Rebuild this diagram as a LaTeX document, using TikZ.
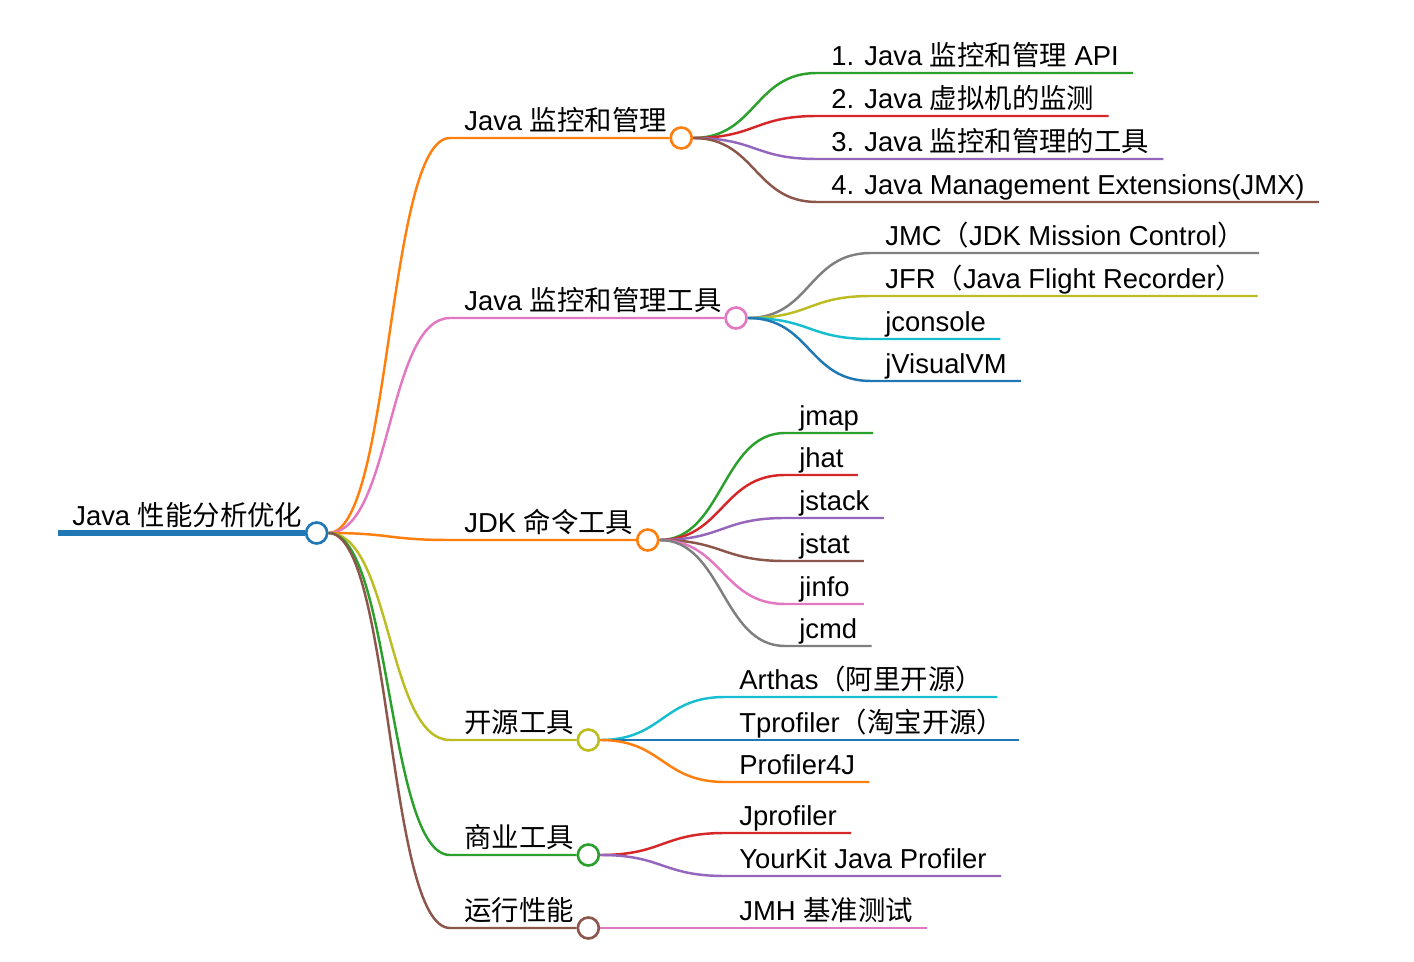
\documentclass[tikz,border=0pt]{standalone}
\usepackage{fontspec}
\setmainfont{Liberation Sans}
\newfontfamily\cjk{Noto Sans CJK SC}
\usetikzlibrary{backgrounds}

\definecolor{cblue}{HTML}{1F77B4}
\definecolor{corange}{HTML}{FF7F0E}
\definecolor{cgreen}{HTML}{2CA02C}
\definecolor{cred}{HTML}{D62728}
\definecolor{cpurple}{HTML}{9467BD}
\definecolor{cbrown}{HTML}{8C564B}
\definecolor{cpink}{HTML}{E377C2}
\definecolor{cgray}{HTML}{7F7F7F}
\definecolor{colive}{HTML}{BCBD22}
\definecolor{ccyan}{HTML}{17BECF}

\tikzset{
  topic/.style={anchor=south west, inner xsep=0.28cm, inner ysep=0.15cm, text depth=0pt, font=\fontsize{15.6}{18}\selectfont},
  hub/.style={circle, draw=#1, fill=white, line width=1.5pt, minimum size=0.42cm, inner sep=0pt},
  link/.style={line width=1.4pt, to path={.. controls +(63,0) and +(-63,0) .. (\tikztotarget)}}
}

\begin{document}
\begin{tikzpicture}[x=0.02cm, y=-0.02cm]
    \useasboundingbox (0,0) rectangle (1414,962);

    \node[topic] (root) at (58,533) {Java {\cjk 性能分析优化}};
    \node[hub=cblue] (rootdot) at (root.south east) {};

    \node[topic] (monitor) at (450,138) {Java {\cjk 监控和管理}};
    \node[hub=corange] (monitordot) at (monitor.south east) {};
    \node[topic] (tools) at (450,318) {Java {\cjk 监控和管理工具}};
    \node[hub=cpink] (toolsdot) at (tools.south east) {};
    \node[topic] (jdk) at (450,540) {JDK {\cjk 命令工具}};
    \node[hub=corange] (jdkdot) at (jdk.south east) {};
    \node[topic] (open) at (450,740) {\cjk 开源工具};
    \node[hub=colive] (opendot) at (open.south east) {};
    \node[topic] (biz) at (450,855) {\cjk 商业工具};
    \node[hub=cgreen] (bizdot) at (biz.south east) {};
    \node[topic] (perf) at (450,928) {\cjk 运行性能};
    \node[hub=cbrown] (perfdot) at (perf.south east) {};

    \node[topic] (api) at (817,73) {1. Java {\cjk 监控和管理} API};
    \node[topic] (vm) at (817,116) {2. Java {\cjk 虚拟机的监测}};
    \node[topic] (mgmt) at (817,159) {3. Java {\cjk 监控和管理的工具}};
    \node[topic] (jmx) at (817,202) {4. Java Management Extensions(JMX)};

    \node[topic] (jmc) at (871,253) {JMC{\cjk （}JDK Mission Control{\cjk ）}};
    \node[topic] (jfr) at (871,296) {JFR{\cjk （}Java Flight Recorder{\cjk ）}};
    \node[topic] (jconsole) at (871,339) {jconsole};
    \node[topic] (jvisualvm) at (871,381) {jVisualVM};

    \node[topic] (jmap) at (785,433) {jmap};
    \node[topic] (jhat) at (785,475) {jhat};
    \node[topic] (jstack) at (785,518) {jstack};
    \node[topic] (jstat) at (785,561) {jstat};
    \node[topic] (jinfo) at (785,604) {jinfo};
    \node[topic] (jcmd) at (785,646) {jcmd};

    \node[topic] (arthas) at (725,697) {Arthas{\cjk （阿里开源）}};
    \node[topic] (tprof) at (725,740) {Tprofiler{\cjk （淘宝开源）}};
    \node[topic] (prof4j) at (725,782) {Profiler4J};

    \node[topic] (jprof) at (725,833) {Jprofiler};
    \node[topic] (yourkit) at (725,876) {YourKit Java Profiler};

    \node[topic] (jmh) at (725,928) {JMH {\cjk 基准测试}};

    \begin{scope}[on background layer]
    \draw[cblue, line width=3pt] (root.south west) -- (rootdot);

    \draw[corange, link] (rootdot.east) to (monitor.south west) -- (monitordot);
    \draw[cpink, link] (rootdot.east) to (tools.south west) -- (toolsdot);
    \draw[corange, link] (rootdot.east) to (jdk.south west) -- (jdkdot);
    \draw[colive, link] (rootdot.east) to (open.south west) -- (opendot);
    \draw[cgreen, link] (rootdot.east) to (biz.south west) -- (bizdot);
    \draw[cbrown, link] (rootdot.east) to (perf.south west) -- (perfdot);

    \draw[cgreen, link] (monitordot.east) to (api.south west) -- (api.south east);
    \draw[cred, link] (monitordot.east) to (vm.south west) -- (vm.south east);
    \draw[cpurple, link] (monitordot.east) to (mgmt.south west) -- (mgmt.south east);
    \draw[cbrown, link] (monitordot.east) to (jmx.south west) -- (jmx.south east);

    \draw[cgray, link] (toolsdot.east) to (jmc.south west) -- (jmc.south east);
    \draw[colive, link] (toolsdot.east) to (jfr.south west) -- (jfr.south east);
    \draw[ccyan, link] (toolsdot.east) to (jconsole.south west) -- (jconsole.south east);
    \draw[cblue, link] (toolsdot.east) to (jvisualvm.south west) -- (jvisualvm.south east);

    \draw[cgreen, link] (jdkdot.east) to (jmap.south west) -- (jmap.south east);
    \draw[cred, link] (jdkdot.east) to (jhat.south west) -- (jhat.south east);
    \draw[cpurple, link] (jdkdot.east) to (jstack.south west) -- (jstack.south east);
    \draw[cbrown, link] (jdkdot.east) to (jstat.south west) -- (jstat.south east);
    \draw[cpink, link] (jdkdot.east) to (jinfo.south west) -- (jinfo.south east);
    \draw[cgray, link] (jdkdot.east) to (jcmd.south west) -- (jcmd.south east);

    \draw[ccyan, link] (opendot.east) to (arthas.south west) -- (arthas.south east);
    \draw[cblue, link] (opendot.east) to (tprof.south west) -- (tprof.south east);
    \draw[corange, link] (opendot.east) to (prof4j.south west) -- (prof4j.south east);

    \draw[cred, link] (bizdot.east) to (jprof.south west) -- (jprof.south east);
    \draw[cpurple, link] (bizdot.east) to (yourkit.south west) -- (yourkit.south east);

    \draw[cpink, link] (perfdot.east) to (jmh.south west) -- (jmh.south east);
    \end{scope}
  \end{tikzpicture}
\end{document}
